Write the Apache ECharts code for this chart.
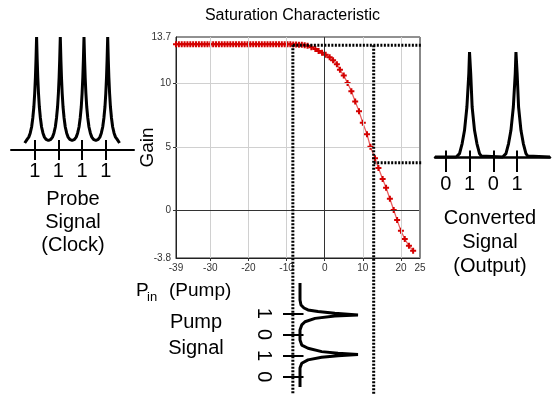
<!DOCTYPE html>
<html><head><meta charset="utf-8">
<script src="https://cdn.jsdelivr.net/npm/echarts@6/dist/echarts.min.js"></script>
<style>html,body{margin:0;padding:0;background:#fff}#c{width:553px;height:394px}</style>
</head><body><div id="c"></div>
<script>
// ---- Saturation characteristic (main chart) ----
const pinDbm = [-39,-38.25,-37.5,-36.75,-36,-35.25,-34.5,-33.75,-33,-32.25,-31.5,-30.75,-30,-29.25,-28.5,-27.75,-27,-26.25,-25.5,-24.75,-24,-23.25,-22.5,-21.75,-21,-20.25,-19.5,-18.75,-18,-17.25,-16.5,-15.75,-15,-14.25,-13.5,-12.75,-12,-11.25,-10.5,-9.75,-9,-8.25,-7.5,-6.75,-6,-5.25,-4.5,
  -3.5,-2.45,-1.6,-0.7,0.26,1.3,2.2,3.2,4.0,5.0,6.0,7.0,8.0,9.0,10.0,11.1,12.0,13.2,14.1,15.2,16.1,17.1,18.1,19.0,20.0,21.0,22.1,23.2];
const gainDb = [13.12,13.12,13.12,13.12,13.12,13.12,13.12,13.12,13.12,13.12,13.12,13.12,13.12,13.12,13.12,13.12,13.12,13.12,13.12,13.12,13.12,13.12,13.12,13.12,13.12,13.12,13.12,13.12,13.12,13.12,13.12,13.12,13.12,13.12,13.12,13.12,13.12,13.12,13.12,13.12,13.12,13.11,13.1,13.09,13.08,13.05,13.0,
  12.88,12.75,12.6,12.46,12.3,12.1,11.85,11.55,11.1,10.65,10.05,9.4,8.6,7.83,6.9,6.0,5.0,4.1,3.33,2.46,1.76,0.89,0.0,-0.8,-1.65,-2.3,-2.83,-3.22];
const xLabelValues = [-39,-30,-20,-10,0,10,20,25];
const xTickValues = [-30,-20,-10,0,10,20];
const yLabelValues = [-3.8,0,5,10,13.7];
const yTickValues = [0,5,10];
const xGridValues = [-30,-20,-10,10,20];
const yGridValues = [5,10];
// operating points used by the dotted guide lines
const pumpZeroDbm = -8.35, pumpOneDbm = 12.85;
const gainHigh = 13.05, gainLow = 3.74;

// ---- Probe signal (clock) ----
const probeTime = [0.58,0.68,0.75,0.81,0.87,0.92,0.965,1.0,1.03,1.055,1.08,1.105,1.13,1.16,1.195,1.24,1.29,1.35,1.41,1.48,1.58,
  1.68,1.75,1.81,1.87,1.92,1.965,2.0,2.03,2.055,2.08,2.105,2.13,2.16,2.195,2.24,2.29,2.35,2.41,2.48,2.58,
  2.68,2.75,2.81,2.87,2.92,2.965,3.0,3.03,3.055,3.08,3.105,3.13,3.16,3.195,3.24,3.29,3.35,3.41,3.48,3.58,
  3.68,3.75,3.81,3.87,3.92,3.965,4.0,4.03,4.055,4.08,4.105,4.13,4.16,4.195,4.24,4.29,4.35,4.41,4.48,4.58];
const probeLevel = [0.058,0.09,0.11,0.145,0.20,0.28,0.38,0.50,0.64,0.80,1.0,0.80,0.64,0.50,0.38,0.28,0.20,0.145,0.11,0.09,0.08,
  0.09,0.11,0.145,0.20,0.28,0.38,0.50,0.64,0.80,1.0,0.80,0.64,0.50,0.38,0.28,0.20,0.145,0.11,0.09,0.08,
  0.09,0.11,0.145,0.20,0.28,0.38,0.50,0.64,0.80,1.0,0.80,0.64,0.50,0.38,0.28,0.20,0.145,0.11,0.09,0.08,
  0.09,0.11,0.145,0.20,0.28,0.38,0.50,0.64,0.80,1.0,0.80,0.64,0.50,0.38,0.28,0.20,0.145,0.11,0.09,0.058];
const probeSlots = [1,2,3,4];
const probeBits = ['1','1','1','1'];

// ---- Converted signal (output) ----
const outTime = [0.55,1.44,1.51,1.58,1.69,1.79,1.89,1.97,2.0,2.05,2.11,2.21,2.31,2.42,2.49,2.56,3.39,3.46,3.53,3.64,3.74,3.84,3.92,3.95,4.0,4.06,4.16,4.26,4.37,4.44,4.51,5.38];
const outLevel = [0,0,0.01,0.032,0.128,0.254,0.476,0.794,1.0,0.794,0.476,0.254,0.128,0.032,0.01,0,0,0.01,0.032,0.128,0.254,0.476,0.794,1.0,0.794,0.476,0.254,0.128,0.032,0.01,0,0];
const outSlots = [1,2,3,4];
const outBits = ['0','1','0','1'];

// ---- Pump signal ----
const pumpTime = [-0.43,0.37,0.61,0.75,0.84,0.92,1.0,1.08,1.13,1.24,1.40,1.55,1.79,2.26,2.50,2.65,2.81,2.89,2.94,3.0,3.08,3.20,3.36,3.58,4.48];
const pumpLevel = [0,0,0.017,0.069,0.138,0.31,0.60,1.0,0.60,0.26,0.086,0.03,0,0,0.03,0.138,0.374,0.655,1.0,0.655,0.374,0.138,0.03,0,0];
const pumpSlots = [1,2,3,4];
const pumpBits = ['1','0','1','0'];

const FONT = 'Liberation Sans, Arial, sans-serif';
const zip = (a, b) => a.map((v, i) => [v, b[i]]);
const FAR_LOW = -40, FAR_RIGHT = 100;
const dotted = {color: '#000', width: 3, type: [2, 1.5]};

const chart = echarts.init(document.getElementById('c'), null, {renderer: 'canvas'});
const option = {
  animation: false,
  textStyle: {fontFamily: FONT},
  grid: [
    {left: 176, right: 133, top: 37, bottom: 136, show: true, borderColor: '#222', borderWidth: 1},
    {left: 11, width: 123, top: 37, height: 112.5},
    {left: 435, width: 115, top: 52, height: 105},
    {left: 300, width: 58, top: 283, height: 104}
  ],
  xAxis: [
    {gridIndex: 0, type: 'value', min: -39, max: 25,
      axisLine: {onZero: false, lineStyle: {color: '#222', width: 1}},
      axisTick: {customValues: xTickValues, length: 3, lineStyle: {color: '#333'}},
      axisLabel: {customValues: xLabelValues, fontSize: 10, color: '#333', margin: 5},
      splitLine: {show: false}},
    {gridIndex: 1, type: 'value', min: 0, max: 5.19, position: 'bottom',
      axisLine: {onZero: false, lineStyle: {color: '#000', width: 2}},
      axisTick: {customValues: probeSlots, length: 10.5, lineStyle: {color: '#000', width: 2}},
      axisLabel: {customValues: probeSlots, formatter: v => probeBits[Math.round(v) - 1], fontSize: 20, color: '#000', margin: 12},
      splitLine: {show: false}},
    {gridIndex: 1, type: 'value', min: 0, max: 5.19, position: 'bottom',
      axisLine: {show: false, onZero: false},
      axisTick: {inside: true, customValues: probeSlots, length: 9.5, lineStyle: {color: '#000', width: 2}},
      axisLabel: {show: false}, splitLine: {show: false}},
    {gridIndex: 2, type: 'value', min: 0.55, max: 5.38, position: 'bottom',
      axisLine: {onZero: false, lineStyle: {color: '#000', width: 2.5}},
      axisTick: {customValues: outSlots, length: 15, lineStyle: {color: '#000', width: 2}},
      axisLabel: {customValues: outSlots, formatter: v => outBits[Math.round(v) - 1], fontSize: 20, color: '#000', margin: 17},
      splitLine: {show: false}},
    {gridIndex: 2, type: 'value', min: 0.55, max: 5.38, position: 'bottom',
      axisLine: {show: false, onZero: false},
      axisTick: {inside: true, customValues: outSlots, length: 6.5, lineStyle: {color: '#000', width: 2}},
      axisLabel: {show: false}, splitLine: {show: false}},
    {gridIndex: 3, type: 'value', min: 0, max: 1, show: false}
  ],
  yAxis: [
    {gridIndex: 0, type: 'value', min: -3.8, max: 13.7,
      name: 'Gain', nameLocation: 'middle', nameGap: 19, nameMoveOverlap: false,
      nameTextStyle: {fontSize: 19, color: '#000', fontFamily: FONT},
      axisLine: {onZero: false, lineStyle: {color: '#222', width: 1}},
      axisTick: {customValues: yTickValues, length: 3, lineStyle: {color: '#333'}},
      axisLabel: {customValues: yLabelValues, fontSize: 10, color: '#333', margin: 5},
      splitLine: {show: false}},
    {gridIndex: 1, type: 'value', min: 0, max: 1, show: false},
    {gridIndex: 2, type: 'value', min: 0, max: 1, show: false},
    {gridIndex: 3, type: 'value', min: -0.43, max: 4.48, inverse: true, position: 'left',
      axisLine: {show: false, onZero: false},
      axisTick: {customValues: pumpSlots, length: 17, lineStyle: {color: '#000', width: 2}},
      axisLabel: {customValues: pumpSlots, formatter: v => pumpBits[Math.round(v) - 1], rotate: -90, fontSize: 20, color: '#000', margin: 26},
      splitLine: {show: false}},
    {gridIndex: 3, type: 'value', min: -0.43, max: 4.48, inverse: true, position: 'left',
      axisLine: {show: false, onZero: false},
      axisTick: {inside: true, customValues: pumpSlots, length: 3.5, lineStyle: {color: '#000', width: 2}},
      axisLabel: {show: false}, splitLine: {show: false}}
  ],
  series: [
    {type: 'line', xAxisIndex: 0, yAxisIndex: 0, data: [], z: 1, silent: true,
      markLine: {silent: true, symbol: ['none', 'none'], label: {show: false}, animation: false,
        lineStyle: {color: '#d0d0d0', width: 1, type: 'solid'},
        data: [
          ...xGridValues.map(v => ({xAxis: v})),
          ...yGridValues.map(v => ({yAxis: v})),
          {xAxis: 0, lineStyle: {color: '#333', width: 1, type: 'solid'}},
          {yAxis: 0, lineStyle: {color: '#333', width: 1, type: 'solid'}},
          {xAxis: 25, lineStyle: {color: '#888', width: 2, type: 'solid'}}
        ]}},
    {type: 'line', name: 'Gain', xAxisIndex: 0, yAxisIndex: 0, z: 3,
      data: zip(pinDbm, gainDb), showAllSymbol: true,
      symbol: 'path://M2,0h2v2h2v2h-2v2h-2v-2h-2v-2h2z', symbolSize: 6,
      itemStyle: {color: '#d40000'}, lineStyle: {color: '#e86060', width: 1.3}},
    {type: 'line', xAxisIndex: 0, yAxisIndex: 0, z: 10, clip: false, symbol: 'none', silent: true,
      data: [[pumpZeroDbm, FAR_LOW], [pumpZeroDbm, gainHigh]], lineStyle: dotted},
    {type: 'line', xAxisIndex: 0, yAxisIndex: 0, z: 10, clip: false, symbol: 'none', silent: true,
      data: [[pumpZeroDbm, gainHigh], [FAR_RIGHT, gainHigh]], lineStyle: dotted},
    {type: 'line', xAxisIndex: 0, yAxisIndex: 0, z: 10, clip: false, symbol: 'none', silent: true,
      data: [[pumpOneDbm, gainHigh], [pumpOneDbm, FAR_LOW]], lineStyle: dotted},
    {type: 'line', xAxisIndex: 0, yAxisIndex: 0, z: 10, clip: false, symbol: 'none', silent: true,
      data: [[pumpOneDbm, gainLow], [FAR_RIGHT, gainLow]], lineStyle: dotted},
    {type: 'line', xAxisIndex: 1, yAxisIndex: 1, clip: false, symbol: 'none', silent: true,
      data: zip(probeTime, probeLevel), lineStyle: {color: '#000', width: 3}},
    {type: 'line', xAxisIndex: 3, yAxisIndex: 2, clip: false, symbol: 'none', silent: true,
      data: zip(outTime, outLevel), lineStyle: {color: '#000', width: 3}},
    {type: 'line', xAxisIndex: 5, yAxisIndex: 3, clip: false, symbol: 'none', silent: true,
      data: zip(pumpLevel, pumpTime), lineStyle: {color: '#000', width: 3}}
  ],
  graphic: [
    {type: 'text', x: 292.5, y: 16, style: {text: 'Saturation Characteristic', fontSize: 16, fontFamily: FONT, fill: '#000', align: 'center', verticalAlign: 'middle'}},
    {type: 'text', x: 73, y: 222, style: {text: 'Probe\nSignal\n(Clock)', fontSize: 20, lineHeight: 23, fontFamily: FONT, fill: '#000', align: 'center', verticalAlign: 'middle'}},
    {type: 'text', x: 490, y: 242, style: {text: 'Converted\nSignal\n(Output)', fontSize: 20, lineHeight: 24, fontFamily: FONT, fill: '#000', align: 'center', verticalAlign: 'middle'}},
    {type: 'text', x: 196, y: 335, style: {text: 'Pump\nSignal', fontSize: 20, lineHeight: 26, fontFamily: FONT, fill: '#000', align: 'center', verticalAlign: 'middle'}},
    {type: 'text', x: 136, y: 291, style: {text: 'P', fontSize: 19, fontFamily: FONT, fill: '#000', align: 'left', verticalAlign: 'middle'}},
    {type: 'text', x: 147, y: 297, style: {text: 'in', fontSize: 13, fontFamily: FONT, fill: '#000', align: 'left', verticalAlign: 'middle'}},
    {type: 'text', x: 169, y: 291, style: {text: '(Pump)', fontSize: 19, fontFamily: FONT, fill: '#000', align: 'left', verticalAlign: 'middle'}}
  ]
};
chart.setOption(option);
</script></body></html>
